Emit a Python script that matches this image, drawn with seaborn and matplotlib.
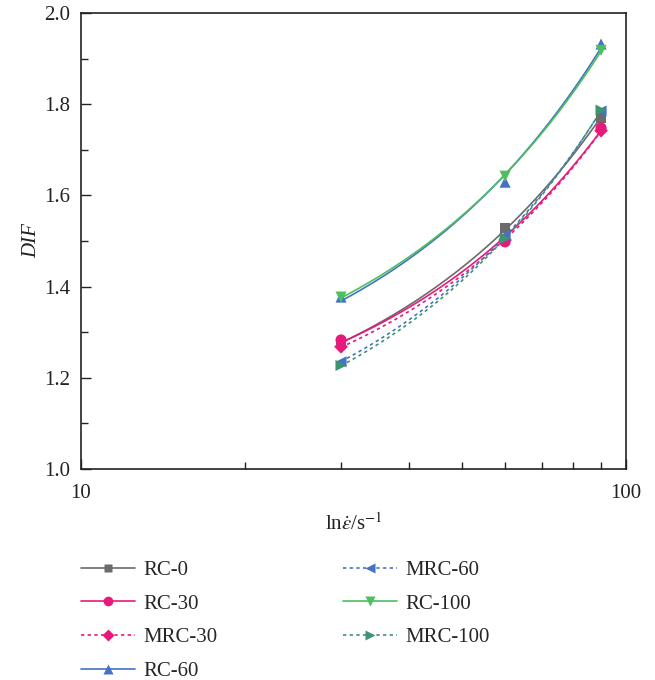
import numpy as np
import pandas as pd
import seaborn as sns
import matplotlib
matplotlib.use("Agg")
import matplotlib.pyplot as plt
from matplotlib.lines import Line2D
from matplotlib.ticker import MultipleLocator, FixedLocator, NullFormatter

# ---- data ----
strain_rate = [30, 60, 90]
labels = ["RC-0", "RC-30", "MRC-30", "RC-60", "MRC-60", "RC-100", "MRC-100"]
rc0 = [1.275, 1.528, 1.770]
rc30 = [1.283, 1.498, 1.748]
mrc30 = [1.268, 1.502, 1.742]
rc60 = [1.377, 1.629, 1.932]
mrc60 = [1.235, 1.512, 1.785]
rc100 = [1.377, 1.642, 1.918]
mrc100 = [1.227, 1.505, 1.787]
series = [rc0, rc30, mrc30, rc60, mrc60, rc100, mrc100]

colors = ["#6b6b6b", "#e8197a", "#e8197a", "#4472c4", "#4472c4", "#4dbf5e", "#3d9470"]
markers = ["s", "o", "D", "^", "<", "v", ">"]
msizes = [7, 8, 7, 8, 8, 8, 8]
styles = ["-", "-", (0, (2, 2)), "-", (0, (2, 2)), "-", (0, (2, 2))]

sns.set_style("white")
plt.rcParams["font.family"] = ["Liberation Serif", "DejaVu Serif"]
plt.rcParams["mathtext.fontset"] = "stix"

fig = plt.figure(figsize=(6.55, 6.8), dpi=100)
ax = fig.add_axes([0.1237, 0.3103, 0.832, 0.6706])

handles = []
for lab, ys, c, m, ms, ls in zip(labels, series, colors, markers, msizes, styles):
    df = pd.DataFrame({"x": strain_rate, "y": ys})
    sns.regplot(data=df, x="x", y="y", ax=ax, ci=None, truncate=True,
                scatter=False, line_kws=dict(color=c, lw=1.2, ls=ls))
    sns.scatterplot(data=df, x="x", y="y", ax=ax, marker=m, color=c, s=ms**2,
                    edgecolor="none", zorder=5, legend=False)
    handles.append(Line2D([0], [0], color=c, lw=1.2, ls=ls, marker=m,
                          markersize=ms - 1, markeredgecolor="none"))

ax.set_xscale("log")
ax.set_xlim(10, 100)
ax.set_ylim(1.0, 2.0)
ax.xaxis.set_major_locator(FixedLocator([10, 100]))
ax.xaxis.set_major_formatter(matplotlib.ticker.FixedFormatter(["10", "100"]))
ax.xaxis.set_minor_locator(FixedLocator([20, 30, 40, 50, 60, 70, 80, 90]))
ax.xaxis.set_minor_formatter(NullFormatter())
ax.yaxis.set_major_locator(MultipleLocator(0.2))
ax.yaxis.set_minor_locator(MultipleLocator(0.1))
ax.yaxis.set_major_formatter(matplotlib.ticker.FormatStrFormatter("%.1f"))

ax.tick_params(which="both", direction="in", bottom=True, left=True,
               top=False, right=False, labelsize=15, colors="#222222")
ax.tick_params(which="major", length=7, width=1)
ax.tick_params(which="minor", length=5, width=1)
ax.tick_params(axis="x", which="major", pad=11)
ax.tick_params(axis="y", which="major", pad=8)
for sp in ax.spines.values():
    sp.set_color("#222222")
    sp.set_linewidth(1.2)

ax.set_ylabel("DIF", fontsize=15, fontstyle="italic", color="#222222", labelpad=2)
ax.set_xlabel(r"ln$\dot{\varepsilon}$/s$^{-1}$", fontsize=15, color="#222222", labelpad=7)

fig.legend(handles, labels, ncol=2, loc="upper left",
           bbox_to_anchor=(0.1237, 0.176), bbox_transform=fig.transFigure,
           frameon=False, fontsize=15, handlelength=2.6, labelspacing=0.68,
           columnspacing=6.0, handletextpad=0.4, borderpad=0, borderaxespad=0)

fig.savefig("out.png", dpi=100, facecolor="white")
